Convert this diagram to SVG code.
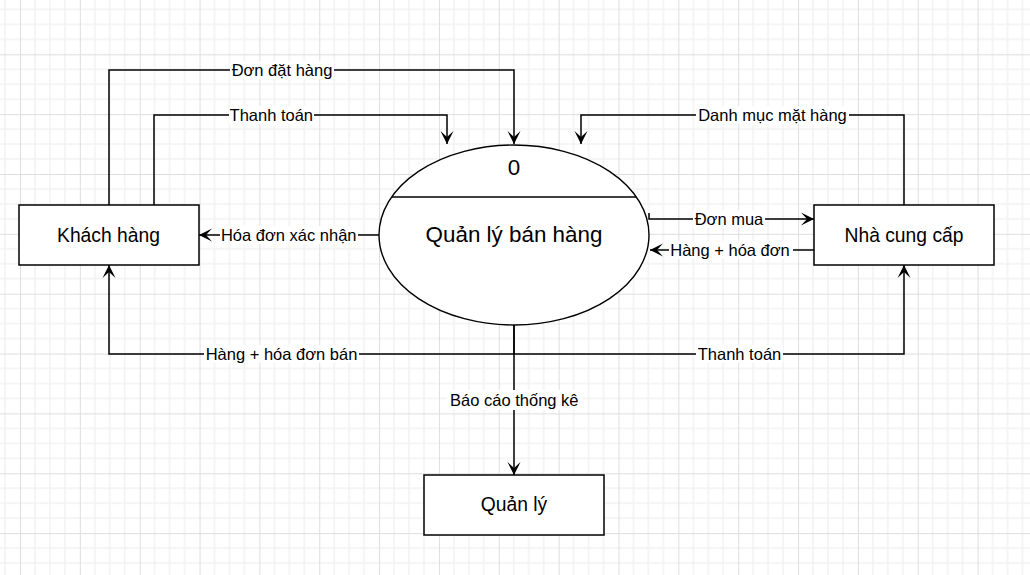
<svg xmlns="http://www.w3.org/2000/svg" width="1030" height="575" viewBox="0 0 1030 575">
<style>
.box{fill:#fff;stroke:#000;stroke-width:1.5}
.conn{fill:none;stroke:#000;stroke-width:1.5}
.lbl{font-family:"Liberation Sans",Arial,sans-serif;font-size:16.5px;fill:#000;text-anchor:middle}
.nl{font-family:"Liberation Sans",Arial,sans-serif;font-size:19.3px;fill:#000;text-anchor:middle}
.el{font-family:"Liberation Sans",Arial,sans-serif;font-size:22.4px;fill:#000;text-anchor:middle}
.bg{fill:#fff}
</style>
<defs>
<pattern id="grid" patternUnits="userSpaceOnUse" x="20" y="-5.55" width="59.85" height="59.85">
<path d="M14.96,0 V59.85 M29.93,0 V59.85 M44.89,0 V59.85 M0,14.96 H59.85 M0,29.93 H59.85 M0,44.89 H59.85" stroke="#f2f2f2" stroke-width="1.5" fill="none"/>
<path d="M0.5,0 V59.85 M0,0.5 H59.85" stroke="#dedede" stroke-width="1" fill="none"/>
</pattern>
<marker id="arr" markerUnits="userSpaceOnUse" markerWidth="14" markerHeight="14" refX="13" refY="7" orient="auto">
<path d="M0,0.5 L13,7 L0,13.5 L6,7 z" fill="#000"/>
</marker>
</defs>
<rect x="0" y="0" width="1030" height="575" fill="#fff"/>
<rect x="0" y="0" width="1030" height="575" fill="url(#grid)"/>

<g id="connectors">
<path class="conn" d="M109,205 V70 H514 V144" marker-end="url(#arr)"/>
<path class="conn" d="M154,205 V115 H447 V144" marker-end="url(#arr)"/>
<path class="conn" d="M904,205 V115 H581 V144" marker-end="url(#arr)"/>
<path class="conn" d="M379,235 H199" marker-end="url(#arr)"/>
<path class="conn" d="M649,213 V219 H814" marker-end="url(#arr)"/>
<path class="conn" d="M814,250 H650" marker-end="url(#arr)"/>
<path class="conn" d="M514,325 V354 H109 V265" marker-end="url(#arr)"/>
<path class="conn" d="M514,354 H904 V265" marker-end="url(#arr)"/>
<path class="conn" d="M514,325 V475" marker-end="url(#arr)"/>

<rect class="bg" x="230" y="61" width="104" height="18"/>
<text class="lbl" x="282" y="75.8">Đơn đặt hàng</text>
<rect class="bg" x="229" y="106" width="85" height="18"/>
<text class="lbl" x="271.3" y="120.8">Thanh toán</text>
<rect class="bg" x="696" y="106" width="153" height="18"/>
<text class="lbl" x="772.5" y="120.8">Danh mục mặt hàng</text>
<rect class="bg" x="220" y="226" width="138" height="18"/>
<text class="lbl" x="288.7" y="240.8">Hóa đơn xác nhận</text>
<rect class="bg" x="693" y="210" width="72" height="18"/>
<text class="lbl" x="729" y="224.8">Đơn mua</text>
<rect class="bg" x="669" y="241" width="124" height="18"/>
<text class="lbl" x="730" y="255.8">Hàng + hóa đơn</text>
<rect class="bg" x="204" y="345" width="155" height="18"/>
<text class="lbl" x="281.5" y="359.8">Hàng + hóa đơn bán</text>
<rect class="bg" x="696" y="345" width="87" height="18"/>
<text class="lbl" x="739.5" y="359.8">Thanh toán</text>
<rect class="bg" x="447" y="390" width="135" height="20"/>
<text class="lbl" x="514.3" y="405.8">Báo cáo thống kê</text>
</g>

<g id="khach-hang">
<rect class="box" x="19" y="205" width="180" height="60"/>
<text class="nl" x="108.5" y="241.6">Khách hàng</text>
</g>

<g id="nha-cung-cap">
<rect class="box" x="814" y="205" width="180" height="60"/>
<text class="nl" x="904" y="241.6">Nhà cung cấp</text>
</g>

<g id="quan-ly">
<rect class="box" x="424" y="475" width="180" height="60"/>
<text class="nl" x="514" y="510.6">Quản lý</text>
</g>

<g id="quan-ly-ban-hang">
<ellipse cx="514" cy="235" rx="135" ry="90" fill="#fff" stroke="#000" stroke-width="1.4"/>
<line x1="391.6" y1="197" x2="636.4" y2="197" stroke="#000" stroke-width="1.4"/>
<text class="el" x="514" y="174.5">0</text>
<text class="el" x="514" y="242">Quản lý bán hàng</text>
</g>
</svg>
